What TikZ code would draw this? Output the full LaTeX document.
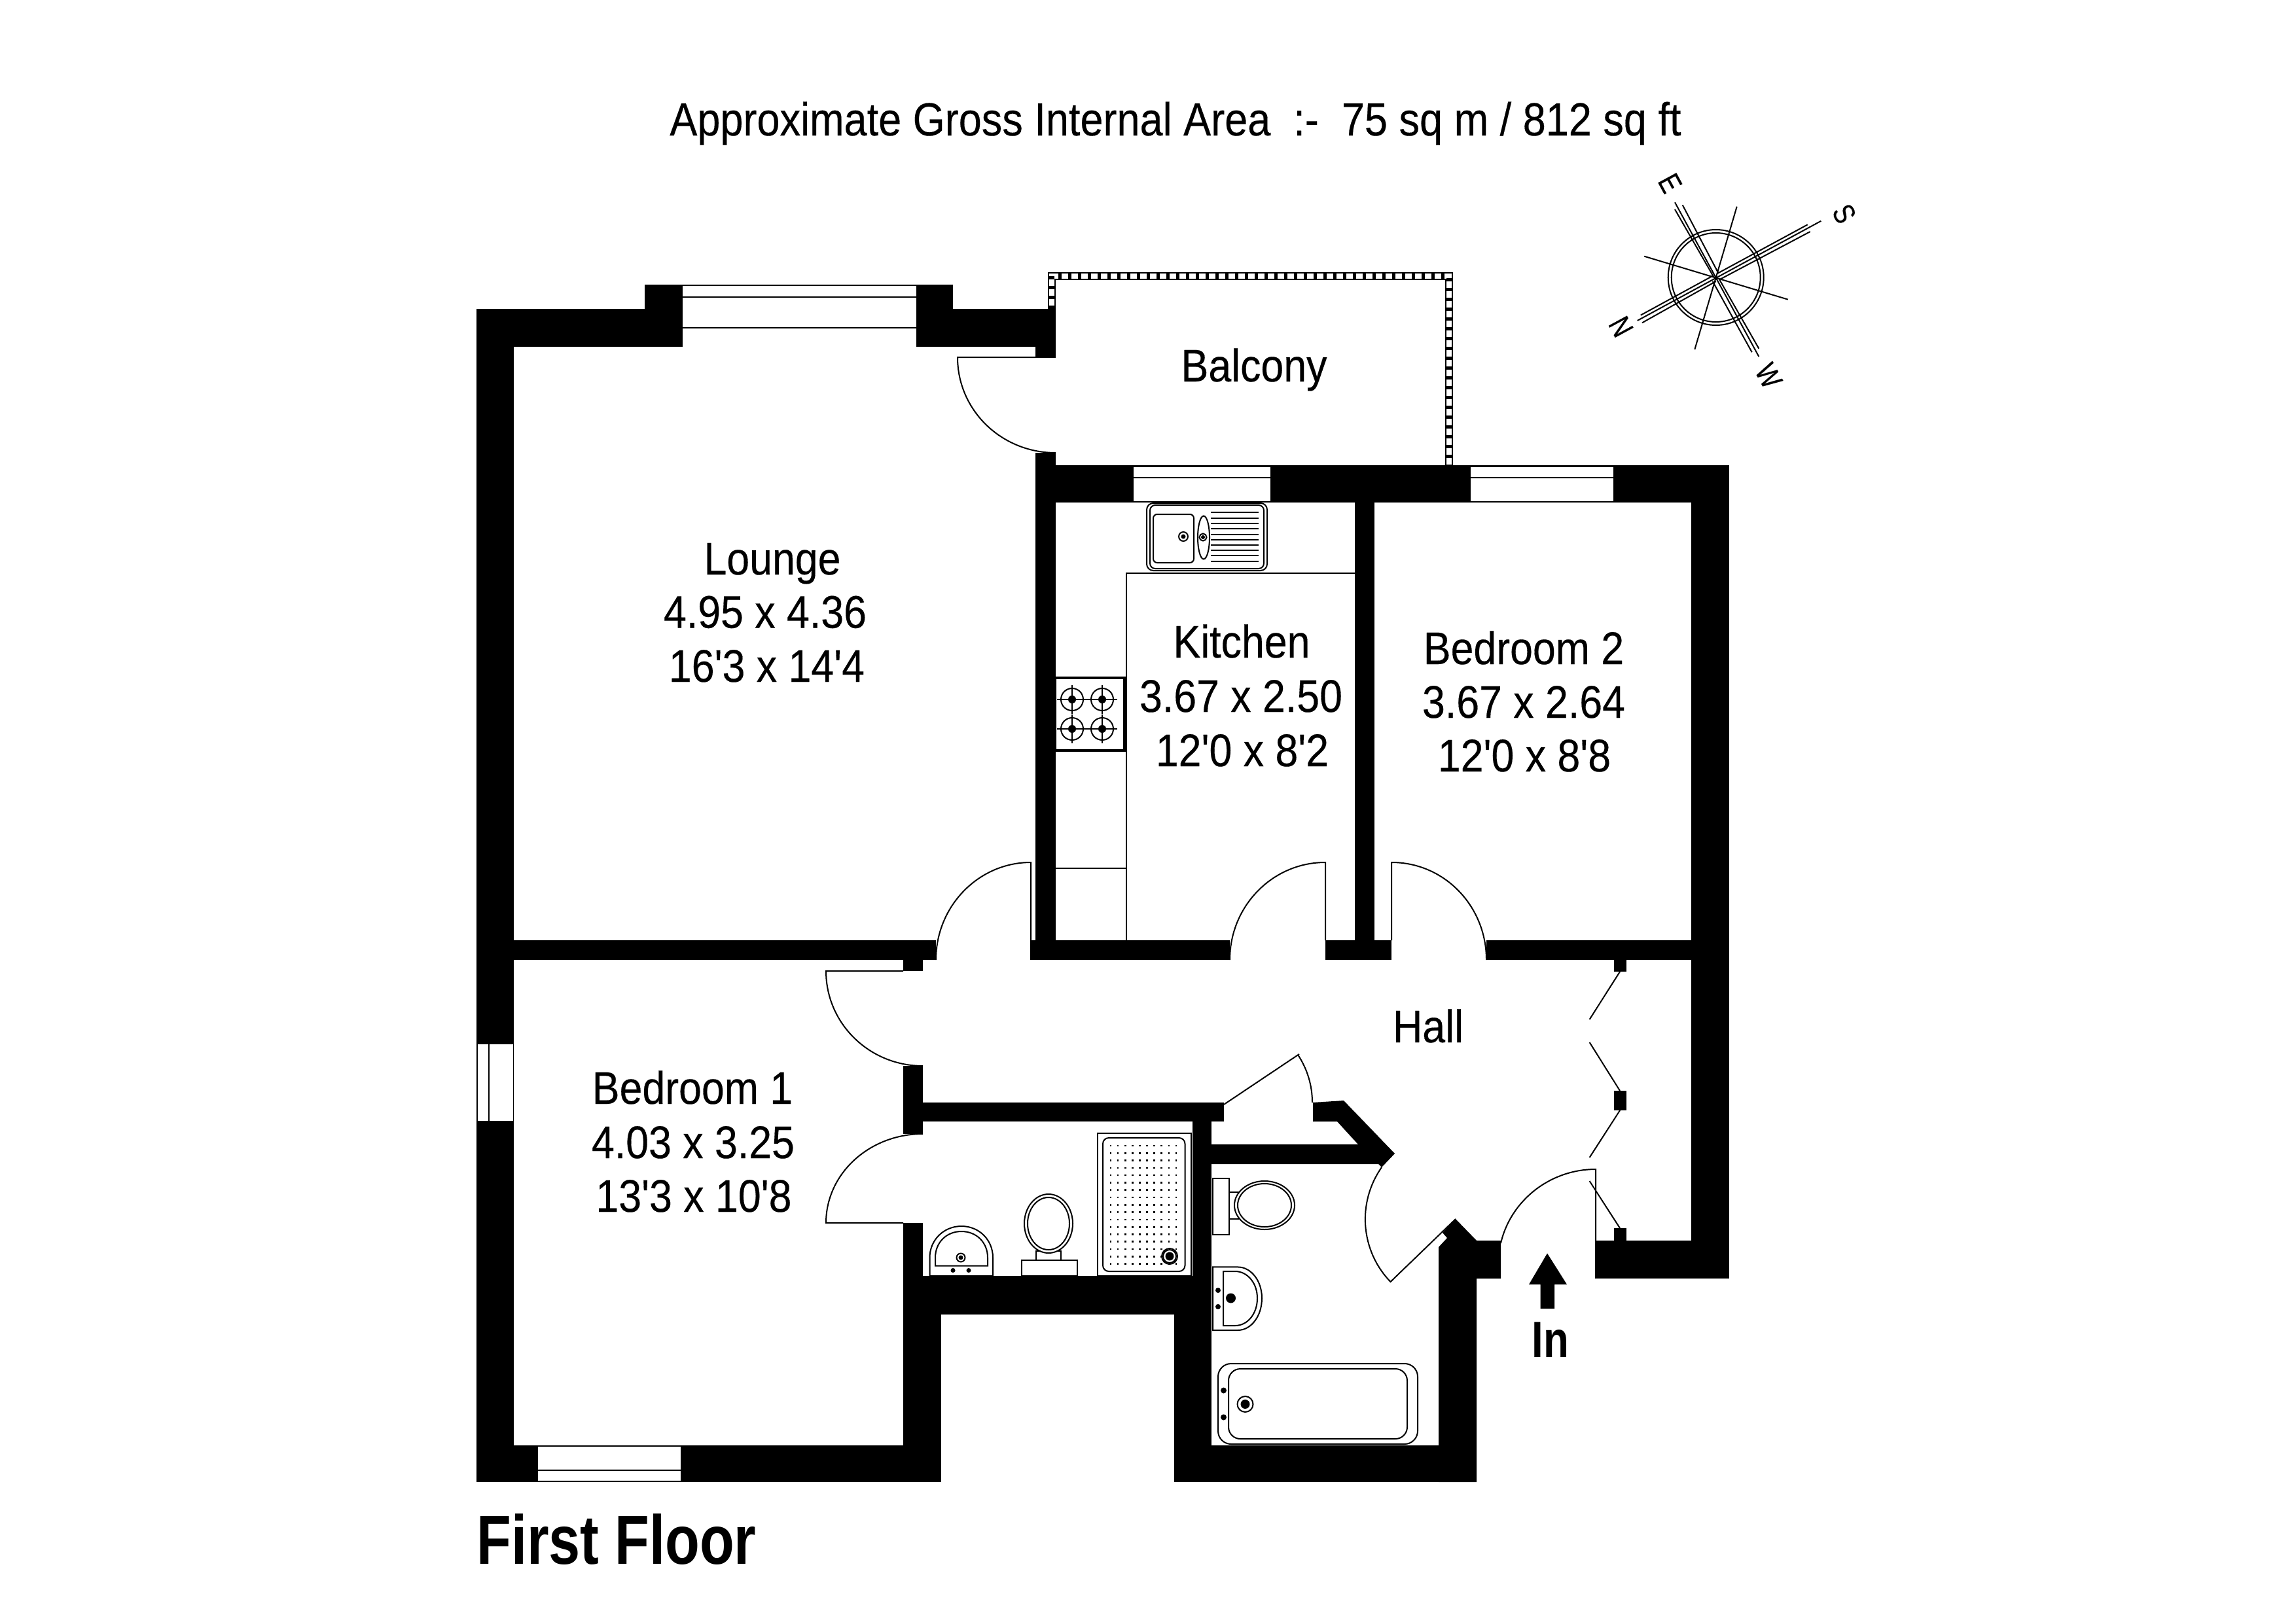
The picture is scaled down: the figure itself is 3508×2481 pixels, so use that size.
\documentclass[tikz,border=0pt]{standalone}
\usepackage{fontspec}
\setmainfont{Liberation Sans}
\newfontfamily\roomfont[FakeStretch=0.895,FakeBold=0.25]{Liberation Sans}
\newfontfamily\titlefont[FakeStretch=0.888,FakeBold=0.25]{Liberation Sans}
\newfontfamily\boldfont[FakeStretch=0.815]{Liberation Sans Bold}
\newfontfamily\letterfont[FakeStretch=0.8,FakeBold=0.3]{Liberation Sans}
\newcommand{\roomsize}{\roomfont\fontsize{70}{80}\selectfont}
\tikzset{
  wall/.style={fill=black,draw=none},
  thin line/.style={draw=black,line width=2pt,line join=miter},
  glaze/.style={fill=white,draw=none},
  fixture/.style={draw=black,line width=2pt,fill=white},
  label/.style={anchor=base,inner sep=0pt,font=\roomsize},
  compass/.style={draw=black,line width=2pt},
  cletter/.style={inner sep=0pt,rotate=-61.5,font=\letterfont\fontsize{46}{48}\selectfont},
  dotfill/.style={fill=black,draw=none}
}
\begin{document}
\begin{tikzpicture}[x=1pt,y=-1pt]
\useasboundingbox[fill=white] (0,0) rectangle (3508,2481);

% ---- door leaves and swings ----
\begin{scope}[thin line]
% balcony door
\draw (1582,546) -- (1463,546) .. controls (1463,627) and (1530,692) .. (1613,692);
% lounge door
\draw (1575,1437) -- (1575,1318) .. controls (1495,1318) and (1430,1385) .. (1430,1467);
% kitchen door
\draw (2025,1437) -- (2025,1318) .. controls (1944,1318) and (1879,1385) .. (1879,1467);
% bedroom 2 door
\draw (2126,1437) -- (2126,1318) .. controls (2207,1318) and (2271,1385) .. (2271,1467);
% bedroom 1 upper door
\draw (1380,1484) -- (1262,1484) .. controls (1262,1564) and (1328,1629) .. (1410,1629);
% shower room door
\draw (1380,1869) -- (1262,1869) .. controls (1262,1794) and (1328,1733) .. (1410,1733);
% bathroom door
\draw (2224,1863) -- (2124.5,1959) .. controls (2078.6,1911.5) and (2073,1838) .. (2111,1784);
% cupboard door
\draw (1870,1688) -- (1985,1611);
\draw (1983,1612) .. controls (1997.5,1634) and (2005,1659) .. (2005,1685);
% entrance door
\draw (2438,1896) -- (2438,1787) .. controls (2368,1787) and (2308,1835) .. (2293,1900);
% cupboard bifold leaves
\draw (2475,1485) -- (2428.6,1558);
\draw (2428.6,1593) -- (2475,1667);
\draw (2475,1697) -- (2428.6,1769);
\draw (2428.6,1805) -- (2475,1877);
\end{scope}

% ---- walls ----
\fill[wall] (728,472) rectangle (785,2265);
\fill[wall] (728,472) rectangle (1043,530);
\fill[wall] (985,435) rectangle (1043,472);
\fill[wall] (1400,472) rectangle (1613,530);
\fill[wall] (1400,435) rectangle (1456,472);
\fill[wall] (1582,472) rectangle (1613,547);
\fill[wall] (1582,692) rectangle (1613,1467);
\fill[wall] (1582,711) rectangle (2642,768);
\fill[wall] (2584,711) rectangle (2642,1954);
\fill[wall] (785,1437) rectangle (1430,1467);
\fill[wall] (1574,1437) rectangle (1879,1467);
\fill[wall] (2025,1437) rectangle (2126,1467);
\fill[wall] (2271,1437) rectangle (2584,1467);
\fill[wall] (2070,768) rectangle (2100,1437);
\fill[wall] (1380,1467) rectangle (1410,1484);
\fill[wall] (1380,1629) rectangle (1410,1733);
\fill[wall] (1380,1869) rectangle (1410,1950);
\fill[wall] (1380,1950) rectangle (1438,2265);
\fill[wall] (728,2209) rectangle (1438,2265);
\fill[wall] (1410,1685) rectangle (1870,1714);
\fill[wall] (1822,1714) rectangle (1851,1950);
\fill[wall] (1380,1950) rectangle (1851,2009);
\fill[wall] (1794,2009) rectangle (1851,2265);
\fill[wall] (1794,2209) rectangle (2256,2265);
\fill[wall] (2006,1685) -- (2053,1682) -- (2131,1763) -- (2111,1784) -- (2106,1779) -- (1851,1779)
  -- (1851,1749) -- (2075,1749) -- (2043,1714) -- (2006,1714) -- cycle;
\fill[wall] (2198,1906) -- (2211,1892) -- (2204,1884) -- (2224,1863) -- (2256,1896) -- (2293,1896)
  -- (2293,1954) -- (2256,1954) -- (2256,2265) -- (2198,2265) -- cycle;
\fill[wall] (2437,1896) rectangle (2642,1954);
\fill[wall] (2466,1467) rectangle (2485,1485);
\fill[wall] (2466,1667) rectangle (2485,1697);
\fill[wall] (2466,1877) rectangle (2485,1896);

% ---- windows ----
\fill[glaze] (1043,436) rectangle (1400,530);
\draw[thin line] (1043,436) -- (1400,436) (1043,454) -- (1400,454) (1043,500.5) -- (1400,500.5);
\fill[glaze] (1732,712) rectangle (1941,767);
\draw[thin line] (1732,712.5) -- (1941,712.5) (1732,730) -- (1941,730) (1732,767) -- (1941,767);
\fill[glaze] (2247,712) rectangle (2465,767);
\draw[thin line] (2247,712.5) -- (2465,712.5) (2247,730) -- (2465,730) (2247,767) -- (2465,767);
\fill[glaze] (822,2210) rectangle (1040,2264);
\draw[thin line] (822,2210) -- (1040,2210) (822,2246.6) -- (1040,2246.6) (822,2264) -- (1040,2264);
\fill[glaze] (730,1596) rectangle (784,1713);
\draw[thin line] (747,1596) -- (747,1713);

% ---- balcony rail ----
\draw[line width=8pt,dash pattern=on 5pt off 10pt] (1607,472) -- (1607,422) -- (2214,422) -- (2214,711);
\draw[thin line] (1602,472) -- (1602,417) -- (2219,417) -- (2219,711);
\draw[thin line] (1612,472) -- (1612,427) -- (2209,427) -- (2209,711);

% ---- kitchen ----
\draw[thin line] (2070,876) -- (1721,876) -- (1721,1437);
\draw[thin line] (1613,1327) -- (1721,1327);
\draw[fixture,rounded corners=10pt] (1752,769) rectangle (1936,872);
\draw[fixture,rounded corners=8pt] (1757,772) rectangle (1931,869);
\draw[fixture,rounded corners=6pt] (1762,786) rectangle (1824,860);
\draw[fixture] (1839,821.5) ellipse (9pt and 33pt);
\draw[fixture] (1808,820) circle (7pt);
\fill[dotfill] (1808,820) circle (3.5pt);
\draw[fixture] (1838,821) circle (5.5pt);
\fill[dotfill] (1838,821) circle (3pt);
\foreach \yy in {783,792,800,808,817,825,833,841,849,858}
  \draw[thin line] (1850,\yy) -- (1923,\yy);
% hob
\draw[fixture,line width=3.5pt] (1612,1036) rectangle (1718,1147);
\foreach \cx/\cy in {1638/1069,1684/1069,1638/1114,1684/1114} {
  \draw[thin line] (\cx,\cy) circle (17pt);
  \draw[thin line,line width=1.8pt] (\cx-23,\cy) -- (\cx+23,\cy) (\cx,\cy-22) -- (\cx,\cy+22);
  \fill[dotfill] (\cx,\cy) circle (6pt);
}

% ---- shower room ----
\draw[fixture] (1677,1732) rectangle (1820,1950);
\draw[fixture,rounded corners=9pt] (1685,1739) rectangle (1810.5,1943);
\foreach \i in {0,...,9} \foreach \j in {0,...,16}
  \fill[dotfill] (1697+\i*11.1-1.3,1751+\j*11.29-1.3) rectangle ++(2.6,2.6);
\draw[fixture] (1787,1920) circle (12pt);
\draw[fixture] (1787,1920) circle (10pt);
\fill[dotfill] (1787,1920) circle (6.5pt);
% toilet
\draw[fixture] (1561,1926) rectangle (1646,1950);
\draw[fixture] (1583,1912) rectangle (1621,1926);
\draw[fixture] (1602,1870) ellipse (37pt and 45pt);
\draw[fixture] (1602,1870) ellipse (32pt and 40pt);
% basin
\draw[fixture] (1420.5,1950) -- (1420.5,1922) .. controls (1420.5,1895) and (1442,1874) .. (1469,1874)
  .. controls (1496,1874) and (1517,1895) .. (1517,1922) -- (1517,1950) -- cycle;
\draw[fixture] (1429,1934.6) -- (1429,1922) .. controls (1429,1899) and (1446,1882) .. (1469,1882)
  .. controls (1492,1882) and (1509,1899) .. (1509,1922) -- (1509,1934.6) -- cycle;
\draw[fixture] (1468,1922) circle (6.5pt);
\fill[dotfill] (1468,1922) circle (3.5pt);
\fill[dotfill] (1456,1941.5) circle (3.5pt);
\fill[dotfill] (1480,1941.5) circle (3.5pt);

% ---- bathroom ----
\draw[fixture] (1853,1800.5) rectangle (1878,1887);
\draw[fixture] (1878,1822) rectangle (1892,1862.5);
\draw[fixture] (1932,1842) ellipse (46pt and 37pt);
\draw[fixture] (1932,1842) ellipse (41pt and 33pt);
\draw[fixture] (1853,2033) -- (1853,1936.4) -- (1891,1936.4) .. controls (1912,1936.4) and (1928,1958) .. (1928,1984)
  .. controls (1928,2011) and (1912,2033) .. (1891,2033) -- cycle;
\draw[fixture] (1869,2026) -- (1869,1943) -- (1887,1943) .. controls (1906,1943) and (1921,1961) .. (1921,1984)
  .. controls (1921,2008) and (1906,2026) .. (1887,2026) -- cycle;
\fill[dotfill] (1880.5,1984) circle (7.5pt);
\fill[dotfill] (1861,1972) circle (4pt);
\fill[dotfill] (1861,1997) circle (4pt);
\draw[fixture,rounded corners=20pt] (1861,2084) rectangle (2166,2207);
\draw[fixture,rounded corners=18pt] (1877,2092) rectangle (2150,2199);
\draw[fixture] (1902.5,2146) circle (12pt);
\fill[dotfill] (1902.5,2146) circle (7pt);
\fill[dotfill] (1869.5,2125) circle (4.5pt);
\fill[dotfill] (1869.5,2166) circle (4.5pt);

% ---- entrance arrow ----
\fill[wall] (2364,1915.5) -- (2394,1963) -- (2375,1963) -- (2375,2000) -- (2353.6,2000) -- (2353.6,1963) -- (2336,1963) -- cycle;

% ---- compass ----
\coordinate (cc) at (2621.7,424);
\draw[compass] (cc) circle (73pt);
\draw[compass] (cc) circle (68pt);
\draw[compass] (2501.7,490) -- (2782.3,337.7);
\draw[compass] (2559,309.3) -- (2687.3,545);
\draw[compass] (2506.7,481.7) -- (2616.7,421.7);
\draw[compass] (2509,493.3) -- (2621.7,430);
\draw[compass] (2761.7,343.3) -- (2623.3,418.3);
\draw[compass] (2765.7,354) -- (2628.3,426.7);
\draw[compass] (2559,320) -- (2618.3,423.3);
\draw[compass] (2570.7,313.3) -- (2625,416.7);
\draw[compass] (2676.7,538.3) -- (2616.7,430);
\draw[compass] (2687.3,532.7) -- (2626.7,426.7);
\draw[compass] (2512.3,391.7) -- (2731.7,457.7);
\draw[compass] (2653.7,315.7) -- (2589.3,534);
\node[cletter] (letterE) at (2551.7,280) {E};
\node[cletter] (letterS) at (2817.7,326.7) {S};
\node[cletter] (letterN) at (2476.7,499.3) {N};
\node[cletter] (letterW) at (2702.3,574.3) {W};

% ---- texts ----
\node[label] (loungeA) at (1180,878) {Lounge};
\node[label] (loungeB) at (1169,959.5) {4.95 x 4.36};
\node[label] (loungeC) at (1171.5,1042) {16'3 x 14'4};
\node[label] (balcony) at (1916,583) {Balcony};
\node[label] (kitchenA) at (1897,1005) {Kitchen};
\node[label] (kitchenB) at (1896,1088) {3.67 x 2.50};
\node[label] (kitchenC) at (1898,1171) {12'0 x 8'2};
\node[label] (bedtwoA) at (2328,1015) {Bedroom 2};
\node[label] (bedtwoB) at (2328,1097) {3.67 x 2.64};
\node[label] (bedtwoC) at (2329,1179) {12'0 x 8'8};
\node[label] (bedoneA) at (1058,1687) {Bedroom 1};
\node[label] (bedoneB) at (1059,1770) {4.03 x 3.25};
\node[label] (bedoneC) at (1060,1852) {13'3 x 10'8};
\node[label] (hall) at (2182,1593) {Hall};
\node[anchor=base,inner sep=0pt,font=\boldfont\fontsize{78}{80}\selectfont] (inlabel) at (2369,2074) {In};
\node[anchor=base,inner sep=0pt,font=\boldfont\fontsize{106}{110}\selectfont] (floor) at (942,2390) {First Floor};
\node[anchor=base,inner sep=0pt,font=\titlefont\fontsize{71}{80}\selectfont] (area) at (1796,207) {Approximate Gross Internal Area\ \ :-\ \ 75 sq m / 812 sq ft};
\end{tikzpicture}
\end{document}
